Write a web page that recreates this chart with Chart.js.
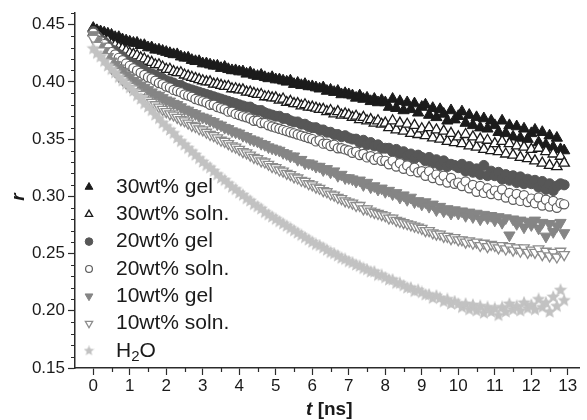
<!DOCTYPE html>
<html>
<head>
<meta charset="utf-8">
<script src="https://cdn.jsdelivr.net/npm/chart.js@4.4.1/dist/chart.umd.min.js"></script>
<style>
  body { margin: 0; background: #fff; }
  canvas { display: block; }
</style>
</head>
<body>
<canvas id="anisotropy" width="587" height="420"></canvas>
<script>
// time axis (ns)
let times = [
  0.0, 0.1, 0.2, 0.3, 0.4, 0.5, 0.6, 0.7, 0.8, 0.9,
  1.0, 1.1, 1.2, 1.3, 1.4, 1.5, 1.6, 1.7, 1.8, 1.9,
  2.0, 2.1, 2.2, 2.3, 2.4, 2.5, 2.6, 2.7, 2.8, 2.9,
  3.0, 3.1, 3.2, 3.3, 3.4, 3.5, 3.6, 3.7, 3.8, 3.9,
  4.0, 4.1, 4.2, 4.3, 4.4, 4.5, 4.6, 4.7, 4.8, 4.9,
  5.0, 5.1, 5.2, 5.3, 5.4, 5.5, 5.6, 5.7, 5.8, 5.9,
  6.0, 6.1, 6.2, 6.3, 6.4, 6.5, 6.6, 6.7, 6.8, 6.9,
  7.0, 7.1, 7.2, 7.3, 7.4, 7.5, 7.6, 7.7, 7.8, 7.9,
  8.0, 8.1, 8.2, 8.3, 8.4, 8.5, 8.6, 8.7, 8.8, 8.9,
  9.0, 9.1, 9.2, 9.3, 9.4, 9.5, 9.6, 9.7, 9.8, 9.9,
  10.0, 10.1, 10.2, 10.3, 10.4, 10.5, 10.6, 10.7, 10.8, 10.9,
  11.0, 11.1, 11.2, 11.3, 11.4, 11.5, 11.6, 11.7, 11.8, 11.9,
  12.0, 12.1, 12.2, 12.3, 12.4, 12.5, 12.6, 12.7, 12.8, 12.9
];

let gel30 = [
  0.447, 0.445, 0.444, 0.443, 0.442, 0.441, 0.439, 0.439, 0.437, 0.436,
  0.435, 0.434, 0.434, 0.432, 0.432, 0.430, 0.430, 0.428, 0.428, 0.427,
  0.426, 0.425, 0.424, 0.424, 0.422, 0.421, 0.421, 0.419, 0.418, 0.418,
  0.416, 0.416, 0.415, 0.414, 0.414, 0.412, 0.413, 0.411, 0.410, 0.410,
  0.409, 0.409, 0.407, 0.408, 0.406, 0.405, 0.406, 0.404, 0.403, 0.404,
  0.402, 0.402, 0.401, 0.400, 0.401, 0.398, 0.399, 0.397, 0.398, 0.396,
  0.396, 0.395, 0.394, 0.395, 0.392, 0.393, 0.391, 0.392, 0.389, 0.390,
  0.389, 0.388, 0.386, 0.388, 0.385, 0.386, 0.383, 0.385, 0.382, 0.384,
  0.382, 0.378, 0.385, 0.377, 0.383, 0.375, 0.382, 0.376, 0.381, 0.373,
  0.378, 0.380, 0.371, 0.377, 0.369, 0.376, 0.372, 0.366, 0.375, 0.367,
  0.370, 0.374, 0.364, 0.371, 0.362, 0.369, 0.360, 0.368, 0.359, 0.366,
  0.362, 0.356, 0.366, 0.355, 0.362, 0.352, 0.361, 0.351, 0.359, 0.350,
  0.355, 0.358, 0.347, 0.356, 0.345, 0.353, 0.343, 0.351, 0.341, 0.340
];

let soln30 = [
  0.443, 0.441, 0.439, 0.437, 0.436, 0.433, 0.432, 0.430, 0.429, 0.427,
  0.425, 0.424, 0.423, 0.421, 0.420, 0.418, 0.417, 0.415, 0.415, 0.413,
  0.411, 0.411, 0.409, 0.408, 0.408, 0.406, 0.405, 0.404, 0.403, 0.402,
  0.401, 0.400, 0.400, 0.398, 0.398, 0.397, 0.396, 0.396, 0.394, 0.394,
  0.393, 0.393, 0.391, 0.391, 0.390, 0.389, 0.389, 0.387, 0.387, 0.386,
  0.386, 0.384, 0.385, 0.382, 0.383, 0.381, 0.381, 0.379, 0.380, 0.378,
  0.378, 0.377, 0.376, 0.376, 0.374, 0.375, 0.372, 0.374, 0.371, 0.372,
  0.371, 0.369, 0.370, 0.367, 0.369, 0.366, 0.367, 0.364, 0.366, 0.363,
  0.364, 0.360, 0.366, 0.358, 0.364, 0.357, 0.363, 0.355, 0.362, 0.354,
  0.359, 0.353, 0.360, 0.351, 0.358, 0.350, 0.357, 0.348, 0.355, 0.347,
  0.352, 0.346, 0.354, 0.344, 0.352, 0.343, 0.350, 0.341, 0.349, 0.340,
  0.346, 0.339, 0.348, 0.337, 0.346, 0.336, 0.344, 0.334, 0.343, 0.333,
  0.341, 0.331, 0.342, 0.329, 0.339, 0.327, 0.337, 0.326, 0.335, 0.329
];

let gel20 = [
  0.444, 0.440, 0.437, 0.435, 0.432, 0.428, 0.427, 0.424, 0.422, 0.419,
  0.417, 0.416, 0.414, 0.412, 0.410, 0.408, 0.407, 0.406, 0.404, 0.403,
  0.401, 0.400, 0.399, 0.397, 0.397, 0.395, 0.394, 0.393, 0.392, 0.391,
  0.390, 0.389, 0.388, 0.387, 0.386, 0.385, 0.384, 0.383, 0.382, 0.381,
  0.380, 0.379, 0.378, 0.378, 0.376, 0.375, 0.375, 0.373, 0.372, 0.371,
  0.370, 0.370, 0.368, 0.368, 0.366, 0.365, 0.365, 0.363, 0.363, 0.361,
  0.360, 0.360, 0.358, 0.358, 0.356, 0.356, 0.354, 0.354, 0.352, 0.353,
  0.351, 0.350, 0.350, 0.347, 0.349, 0.345, 0.347, 0.344, 0.345, 0.342,
  0.342, 0.342, 0.339, 0.341, 0.337, 0.339, 0.335, 0.337, 0.333, 0.336,
  0.334, 0.331, 0.334, 0.329, 0.332, 0.327, 0.331, 0.326, 0.328, 0.327,
  0.325, 0.328, 0.322, 0.326, 0.321, 0.324, 0.319, 0.327, 0.318, 0.322,
  0.318, 0.321, 0.315, 0.319, 0.314, 0.318, 0.312, 0.317, 0.311, 0.315,
  0.311, 0.314, 0.308, 0.313, 0.306, 0.311, 0.305, 0.309, 0.311, 0.310
];

let soln20 = [
  0.443, 0.439, 0.436, 0.433, 0.430, 0.426, 0.424, 0.421, 0.419, 0.416,
  0.414, 0.412, 0.410, 0.408, 0.406, 0.404, 0.403, 0.401, 0.399, 0.398,
  0.396, 0.395, 0.393, 0.392, 0.391, 0.389, 0.388, 0.387, 0.385, 0.384,
  0.383, 0.382, 0.380, 0.380, 0.378, 0.377, 0.376, 0.374, 0.374, 0.372,
  0.371, 0.370, 0.369, 0.368, 0.366, 0.366, 0.364, 0.364, 0.362, 0.361,
  0.360, 0.359, 0.358, 0.357, 0.356, 0.355, 0.354, 0.353, 0.352, 0.351,
  0.350, 0.348, 0.349, 0.346, 0.346, 0.344, 0.345, 0.342, 0.342, 0.341,
  0.340, 0.338, 0.339, 0.336, 0.337, 0.334, 0.335, 0.332, 0.334, 0.331,
  0.331, 0.328, 0.331, 0.326, 0.329, 0.324, 0.327, 0.322, 0.325, 0.321,
  0.322, 0.318, 0.322, 0.316, 0.319, 0.314, 0.318, 0.312, 0.316, 0.311,
  0.312, 0.309, 0.313, 0.307, 0.310, 0.304, 0.309, 0.303, 0.307, 0.302,
  0.305, 0.301, 0.306, 0.299, 0.303, 0.297, 0.302, 0.296, 0.301, 0.295,
  0.298, 0.294, 0.299, 0.292, 0.297, 0.291, 0.296, 0.290, 0.294, 0.293
];

let gel10 = [
  0.441, 0.436, 0.431, 0.427, 0.422, 0.418, 0.415, 0.412, 0.409, 0.406,
  0.404, 0.401, 0.399, 0.397, 0.395, 0.393, 0.391, 0.389, 0.388, 0.386,
  0.384, 0.383, 0.381, 0.380, 0.378, 0.376, 0.375, 0.373, 0.372, 0.370,
  0.369, 0.368, 0.366, 0.365, 0.363, 0.362, 0.360, 0.359, 0.357, 0.356,
  0.355, 0.353, 0.352, 0.350, 0.349, 0.348, 0.346, 0.345, 0.343, 0.342,
  0.341, 0.340, 0.338, 0.337, 0.335, 0.335, 0.332, 0.332, 0.329, 0.329,
  0.328, 0.326, 0.326, 0.323, 0.324, 0.321, 0.322, 0.318, 0.319, 0.316,
  0.316, 0.315, 0.313, 0.314, 0.310, 0.312, 0.308, 0.309, 0.306, 0.307,
  0.304, 0.305, 0.302, 0.303, 0.299, 0.301, 0.297, 0.299, 0.295, 0.296,
  0.293, 0.295, 0.291, 0.293, 0.288, 0.291, 0.287, 0.289, 0.285, 0.288,
  0.285, 0.287, 0.283, 0.286, 0.282, 0.285, 0.280, 0.284, 0.281, 0.283,
  0.279, 0.282, 0.277, 0.281, 0.266, 0.280, 0.276, 0.279, 0.273, 0.278,
  0.275, 0.279, 0.272, 0.277, 0.265, 0.276, 0.269, 0.274, 0.277, 0.268
];

let soln10 = [
  0.438, 0.432, 0.427, 0.422, 0.417, 0.412, 0.409, 0.405, 0.402, 0.399,
  0.396, 0.394, 0.391, 0.389, 0.386, 0.384, 0.382, 0.380, 0.378, 0.376,
  0.374, 0.372, 0.371, 0.369, 0.367, 0.366, 0.364, 0.362, 0.361, 0.359,
  0.358, 0.356, 0.354, 0.353, 0.351, 0.349, 0.348, 0.346, 0.344, 0.343,
  0.341, 0.339, 0.338, 0.336, 0.334, 0.333, 0.331, 0.330, 0.328, 0.326,
  0.325, 0.323, 0.322, 0.320, 0.319, 0.317, 0.316, 0.314, 0.313, 0.311,
  0.310, 0.308, 0.307, 0.305, 0.304, 0.302, 0.301, 0.299, 0.298, 0.296,
  0.295, 0.294, 0.292, 0.292, 0.289, 0.289, 0.287, 0.286, 0.285, 0.284,
  0.283, 0.281, 0.281, 0.279, 0.278, 0.277, 0.276, 0.275, 0.274, 0.273,
  0.272, 0.270, 0.270, 0.268, 0.267, 0.267, 0.265, 0.265, 0.263, 0.264,
  0.262, 0.262, 0.260, 0.261, 0.259, 0.260, 0.257, 0.259, 0.256, 0.258,
  0.257, 0.255, 0.257, 0.254, 0.256, 0.253, 0.255, 0.252, 0.255, 0.251,
  0.253, 0.251, 0.254, 0.249, 0.252, 0.248, 0.251, 0.247, 0.252, 0.249
];

let water = [
  0.429, 0.425, 0.422, 0.418, 0.414, 0.411, 0.408, 0.404, 0.401, 0.398,
  0.395, 0.392, 0.388, 0.385, 0.381, 0.378, 0.375, 0.371, 0.368, 0.364,
  0.361, 0.358, 0.355, 0.351, 0.348, 0.345, 0.342, 0.339, 0.336, 0.333,
  0.330, 0.327, 0.325, 0.322, 0.319, 0.316, 0.314, 0.311, 0.308, 0.306,
  0.303, 0.301, 0.298, 0.296, 0.293, 0.291, 0.289, 0.286, 0.284, 0.282,
  0.280, 0.278, 0.276, 0.274, 0.272, 0.270, 0.268, 0.266, 0.264, 0.262,
  0.260, 0.258, 0.257, 0.255, 0.253, 0.251, 0.250, 0.248, 0.246, 0.245,
  0.243, 0.242, 0.240, 0.239, 0.237, 0.236, 0.234, 0.234, 0.231, 0.231,
  0.229, 0.227, 0.227, 0.224, 0.224, 0.222, 0.220, 0.220, 0.217, 0.218,
  0.216, 0.214, 0.214, 0.211, 0.213, 0.211, 0.208, 0.210, 0.206, 0.208,
  0.206, 0.203, 0.206, 0.201, 0.205, 0.200, 0.204, 0.198, 0.203, 0.199,
  0.202, 0.196, 0.203, 0.199, 0.206, 0.201, 0.204, 0.200, 0.207, 0.202,
  0.205, 0.201, 0.210, 0.203, 0.207, 0.199, 0.212, 0.204, 0.218, 0.209
];

let seriesNames = ['30wt% gel', '30wt% soln.', '20wt% gel', '20wt% soln.', '10wt% gel', '10wt% soln.', 'H2O'];

let xMajor = [0, 1, 2, 3, 4, 5, 6, 7, 8, 9, 10, 11, 12, 13];
let xMinor = [0.5, 1.5, 2.5, 3.5, 4.5, 5.5, 6.5, 7.5, 8.5, 9.5, 10.5, 11.5, 12.5];
let yMajor = [0.15, 0.20, 0.25, 0.30, 0.35, 0.40, 0.45];
let yMinor = [0.16, 0.17, 0.18, 0.19, 0.21, 0.22, 0.23, 0.24, 0.26, 0.27, 0.28, 0.29,
              0.31, 0.32, 0.33, 0.34, 0.36, 0.37, 0.38, 0.39, 0.41, 0.42, 0.43, 0.44, 0.46];

// filled five point star used for the water series
let makeStar = function(size, color) {
    let c = document.createElement('canvas');
    c.width = size; c.height = size;
    let g = c.getContext('2d');
    let R = size / 2, r = R * 0.45;
    g.beginPath();
    for (let i = 0; i < 10; i++) {
        let a = -Math.PI / 2 + i * Math.PI / 5;
        let rr = (i % 2 === 0) ? R : r;
        g.lineTo(R + rr * Math.cos(a), R + rr * Math.sin(a));
    }
    g.closePath();
    g.fillStyle = color;
    g.fill();
    return c;
};

let starBig = makeStar(14, '#c2c2c2');
let starSmall = makeStar(11, '#c2c2c2');

// marker look for each series: plot style + legend style
let styles = [
    {pointStyle: 'triangle', rotation: 0,   fill: '#1b1b1b', stroke: '#1b1b1b', radius: 6.5, lr: 4.5, bw: 1},
    {pointStyle: 'triangle', rotation: 0,   fill: '#ffffff', stroke: '#1b1b1b', radius: 6,   lr: 4.2, bw: 1.3},
    {pointStyle: 'circle',   rotation: 0,   fill: '#575757', stroke: '#575757', radius: 5,   lr: 3.8, bw: 1},
    {pointStyle: 'circle',   rotation: 0,   fill: '#ffffff', stroke: '#5c5c5c', radius: 4.6, lr: 3.4, bw: 1.2},
    {pointStyle: 'triangle', rotation: 180, fill: '#858585', stroke: '#858585', radius: 6.5, lr: 4.5, bw: 1},
    {pointStyle: 'triangle', rotation: 180, fill: '#ffffff', stroke: '#8c8c8c', radius: 6,   lr: 4.2, bw: 1.3},
    {pointStyle: starBig,    rotation: 0,   fill: '#c2c2c2', stroke: '#c2c2c2', radius: 7,   lr: 5,   bw: 0}
];

let allSeries = [gel30, soln30, gel20, soln20, gel10, soln10, water];

let datasets = allSeries.map(function(vals, i) {
    let s = styles[i];
    return {
        label: seriesNames[i],
        data: vals.map(function(v, j) { return {x: times[j], y: v}; }),
        pointStyle: s.pointStyle,
        rotation: s.rotation,
        pointRadius: s.radius,
        pointBackgroundColor: s.fill,
        pointBorderColor: s.stroke,
        pointBorderWidth: s.bw,
        showLine: false,
        order: 7 - i
    };
});

let axisColor = '#2b2b2b';

let extras = {
    id: 'extras',
    afterDraw: function(chart) {
        let ctx = chart.ctx;
        let x = chart.scales.x, y = chart.scales.y, area = chart.chartArea;
        ctx.save();
        // minor ticks
        ctx.strokeStyle = axisColor;
        ctx.lineWidth = 1.2;
        ctx.beginPath();
        xMinor.forEach(function(v) {
            let px = Math.round(x.getPixelForValue(v)) + 0.5;
            ctx.moveTo(px, area.bottom);
            ctx.lineTo(px, area.bottom + 4);
        });
        yMinor.forEach(function(v) {
            let py = Math.round(y.getPixelForValue(v)) + 0.5;
            ctx.moveTo(area.left - 4, py);
            ctx.lineTo(area.left, py);
        });
        ctx.stroke();

        // axis titles
        ctx.fillStyle = '#1a1a1a';
        ctx.textBaseline = 'middle';
        ctx.font = 'italic bold 19px "Liberation Sans", Arial, sans-serif';
        let wt = ctx.measureText('t').width;
        ctx.font = 'bold 19px "Liberation Sans", Arial, sans-serif';
        let wr = ctx.measureText(' [ns]').width;
        let cx = (area.left + area.right) / 2 + 2;
        let sx = cx - (wt + wr) / 2;
        ctx.textAlign = 'left';
        ctx.font = 'italic bold 19px "Liberation Sans", Arial, sans-serif';
        ctx.fillText('t', sx, 410);
        ctx.font = 'bold 19px "Liberation Sans", Arial, sans-serif';
        ctx.fillText(' [ns]', sx + wt, 410);

        ctx.save();
        ctx.translate(19, 197);
        ctx.rotate(-Math.PI / 2);
        ctx.textAlign = 'center';
        ctx.font = 'italic bold 19px "Liberation Sans", Arial, sans-serif';
        ctx.fillText('r', 0, 0);
        ctx.restore();

        // legend inside the plot, lower left
        ctx.font = '21px "Liberation Sans", Arial, sans-serif';
        ctx.textAlign = 'left';
        for (let i = 0; i < seriesNames.length; i++) {
            let s = styles[i];
            let ly = 187 + i * 27.3;
            ctx.fillStyle = s.fill;
            ctx.strokeStyle = s.stroke;
            ctx.lineWidth = s.bw;
            Chart.helpers.drawPoint(ctx, {
                pointStyle: i === 6 ? starSmall : s.pointStyle,
                radius: s.lr,
                rotation: s.rotation,
                borderWidth: s.bw
            }, 89, ly);
            ctx.fillStyle = '#1a1a1a';
            if (i === 6) {
                ctx.fillText('H', 116, ly);
                let w1 = ctx.measureText('H').width;
                ctx.font = '15px "Liberation Sans", Arial, sans-serif';
                ctx.fillText('2', 116 + w1, ly + 6);
                let w2 = ctx.measureText('2').width;
                ctx.font = '21px "Liberation Sans", Arial, sans-serif';
                ctx.fillText('O', 116 + w1 + w2, ly);
            } else {
                ctx.fillText(seriesNames[i], 116, ly);
            }
        }
        ctx.restore();
    }
};

let anisotropyChart = new Chart(document.getElementById('anisotropy').getContext('2d'), {
    type: 'scatter',
    data: {datasets: datasets},
    plugins: [extras],
    options: {
        responsive: false,
        animation: false,
        layout: {padding: {top: 12, right: 0, bottom: 0, left: 0}},
        plugins: {
            legend: {display: false},
            tooltip: {enabled: false}
        },
        scales: {
            x: {
                type: 'linear',
                min: -0.5,
                max: 13.32,
                afterBuildTicks: function(scale) { scale.ticks = xMajor.map(function(v) { return {value: v}; }); },
                afterFit: function(scale) { scale.height = 52; },
                ticks: {
                    color: '#1a1a1a',
                    padding: 1,
                    autoSkip: false,
                    maxRotation: 0,
                    font: {family: '"Liberation Sans", Arial, sans-serif', size: 17},
                    callback: function(v) { return String(v); }
                },
                grid: {drawOnChartArea: false, drawTicks: true, tickLength: 7, tickWidth: 1.2, tickColor: axisColor},
                border: {display: true, color: axisColor, width: 1.5}
            },
            y: {
                type: 'linear',
                min: 0.15,
                max: 0.46,
                afterBuildTicks: function(scale) { scale.ticks = yMajor.map(function(v) { return {value: v}; }); },
                afterFit: function(scale) { scale.width = 75; },
                ticks: {
                    color: '#1a1a1a',
                    padding: 3,
                    autoSkip: false,
                    font: {family: '"Liberation Sans", Arial, sans-serif', size: 17},
                    callback: function(v) { return v.toFixed(2); }
                },
                grid: {drawOnChartArea: false, drawTicks: true, tickLength: 7, tickWidth: 1.2, tickColor: axisColor},
                border: {display: true, color: axisColor, width: 1.5}
            }
        }
    }
});
</script>
</body>
</html>
